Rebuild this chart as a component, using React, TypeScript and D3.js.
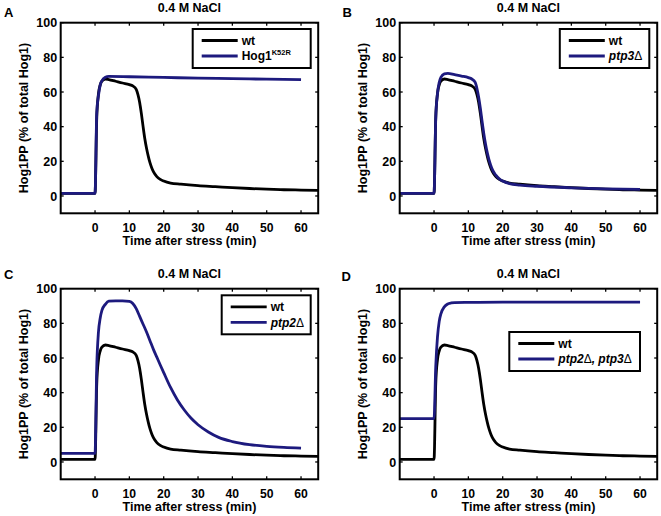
import React from 'react';
import * as d3 from 'd3';

// ---- text ----
const panelTitle = '0.4 M NaCl';
const xLabel = 'Time after stress (min)';
const yLabel = 'Hog1PP (% of total Hog1)';
const timeTicks = [0, 10, 20, 30, 40, 50, 60];
const valueTicks = [0, 20, 40, 60, 80, 100];
const timeDomain = [-10, 65];
const valueDomain = [-10, 100];

// ---- data ----
const wtTime = [-10, 0, 0.5, 1, 1.5, 2, 3, 4, 6, 8, 10, 11, 12, 12.5, 13, 13.5, 14, 14.5, 15, 15.5, 16, 16.5, 17, 18, 19, 20, 22, 25, 30, 35, 40, 45, 50, 55, 60, 65];
const wtValues = [1.5, 1.5, 45, 59, 64, 66.3, 67.5, 67.2, 66.2, 65.2, 64.3, 63.5, 61.5, 58.5, 54, 47.5, 40, 33, 27.5, 23, 19.2, 16.3, 14, 11.2, 9.6, 8.6, 7.4, 6.8, 6.0, 5.4, 4.8, 4.3, 3.9, 3.6, 3.4, 3.2];

const k52rTime = [-10, 0, 0.5, 1, 1.5, 2, 3, 4, 10, 20, 30, 40, 50, 60];
const k52rValues = [1.5, 1.5, 48, 58, 64, 66.5, 68.5, 69, 68.8, 68.4, 68, 67.7, 67.4, 67.1];

const ptp3Time = [-10, 0, 0.5, 1, 1.5, 2, 3, 4, 6, 8, 10, 11, 12, 12.5, 13, 13.5, 14, 14.5, 15, 15.5, 16, 16.5, 17, 18, 19, 20, 22, 25, 30, 40, 50, 60];
const ptp3Values = [1.5, 1.5, 45, 59, 65.5, 68.5, 70.5, 70.8, 70, 69.2, 68.3, 67.5, 65.5, 62, 57, 50.5, 43, 36, 30, 25, 21, 17.8, 15.2, 12, 9.9, 8.6, 7.1, 6.3, 5.6, 4.7, 4.1, 3.8];

const ptp2Time = [-10, 0, 0.5, 1, 1.5, 2, 3, 4, 6, 8, 10, 11, 12, 13, 14, 15, 16, 17, 18, 19, 20, 22, 24, 26, 28, 30, 33, 36, 40, 45, 50, 55, 60];
const ptp2Values = [5, 5, 55, 75, 83, 87.5, 91, 92.8, 93, 93, 92.7, 91.5, 88.5, 84, 79.5, 75, 70, 65, 60.5, 56, 51.6, 43, 35.8, 30, 25.2, 21.5, 17.3, 14.2, 11.8, 10, 9, 8.4, 8];

const ptp23Time = [-10, 0, 0.5, 1, 1.5, 2, 3, 4, 5, 6, 10, 20, 30, 40, 50, 60];
const ptp23Values = [25, 25, 55, 72, 81, 85.5, 89.5, 91.2, 91.8, 92, 92.1, 92.2, 92.2, 92.2, 92.2, 92.2];

const panelLetters = ['A', 'B', 'C', 'D'];
const mutantNames = ['K52R', 'ptp3', 'ptp2', 'ptp23'];

// ---- style ----
const FONT = 'Arial, "Liberation Sans", Helvetica, sans-serif';
const BLUE = '#1d1a7e';
const FS = 12.5;
const W = 257.5;
const H = 190.6;
const colLeft = [60.7, 399.7];
const rowTop = [22.7, 288.7];

type Mutant = { time: number[]; values: number[] };
const mutants: Record<string, Mutant> = {
  K52R: { time: k52rTime, values: k52rValues },
  ptp3: { time: ptp3Time, values: ptp3Values },
  ptp2: { time: ptp2Time, values: ptp2Values },
  ptp23: { time: ptp23Time, values: ptp23Values },
};

const legendBoxes: Record<string, { right: number; top: number; width: number }> = {
  K52R: { right: 250, top: 6.3, width: 118 },
  ptp3: { right: 249.6, top: 6.3, width: 89.5 },
  ptp2: { right: 250, top: 6.6, width: 89 },
  ptp23: { right: 240.3, top: 43.3, width: 130.7 },
};

const labelPos = [
  [4, 16.8],
  [342.5, 17.2],
  [4, 278.6],
  [341.5, 280.6],
];

function MutantLabel({ name }: { name: string }) {
  const delta = <tspan fontWeight="normal" fontStyle="normal">Δ</tspan>;
  if (name === 'K52R')
    return (
      <>
        Hog1<tspan fontSize={7.5} dy={-5}>K52R</tspan>
      </>
    );
  if (name === 'ptp3') return (<><tspan fontStyle="italic">ptp3</tspan>{delta}</>);
  if (name === 'ptp2') return (<><tspan fontStyle="italic">ptp2</tspan>{delta}</>);
  return (
    <>
      <tspan fontStyle="italic">ptp2</tspan>
      <tspan fontWeight="normal" fontStyle="normal">Δ</tspan>
      <tspan fontStyle="italic">, ptp3</tspan>
      <tspan fontWeight="normal" fontStyle="normal">Δ</tspan>
    </>
  );
}

function Panel({ idx }: { idx: number }) {
  const name = mutantNames[idx];
  const mut = mutants[name];
  const x = d3.scaleLinear().domain(timeDomain).range([0, W]);
  const y = d3.scaleLinear().domain(valueDomain).range([H, 0]);
  const makePath = (t: number[], v: number[]) =>
    d3
      .line<[number, number]>()
      .x((d) => x(d[0]))
      .y((d) => y(d[1]))
      .curve(d3.curveMonotoneX)(t.map((tt, i) => [tt, v[i]] as [number, number])) || '';
  const left = colLeft[idx % 2];
  const top = rowTop[Math.floor(idx / 2)];
  const lb = legendBoxes[name];
  const lx = lb.right - lb.width;
  const tick = 3;
  return (
    <g transform={`translate(${left},${top})`}>
      <text x={W / 2} y={-11.2} textAnchor="middle" fontSize={FS} fontWeight="bold">
        {panelTitle}
      </text>
      <path d={makePath(wtTime, wtValues)} fill="none" stroke="#000" strokeWidth={2.8} strokeLinejoin="round" />
      <path d={makePath(mut.time, mut.values)} fill="none" stroke={BLUE} strokeWidth={2.8} strokeLinejoin="round" />
      {timeTicks.map((t) => (
        <g key={'xt' + t}>
          <line x1={x(t)} x2={x(t)} y1={H} y2={H - tick} stroke="#000" strokeWidth={1.3} />
          <line x1={x(t)} x2={x(t)} y1={0} y2={tick} stroke="#000" strokeWidth={1.3} />
          <text x={x(t)} y={H + 18.6} textAnchor="middle" fontSize={12.2} fontWeight="bold">
            {t}
          </text>
        </g>
      ))}
      {valueTicks.map((v) => (
        <g key={'yt' + v}>
          <line x1={0} x2={tick} y1={y(v)} y2={y(v)} stroke="#000" strokeWidth={1.3} />
          <line x1={W} x2={W - tick} y1={y(v)} y2={y(v)} stroke="#000" strokeWidth={1.3} />
          <text x={-3.6} y={y(v) + 4.6} textAnchor="end" fontSize={FS} fontWeight="bold">
            {v}
          </text>
        </g>
      ))}
      <rect x={0} y={0} width={W} height={H} fill="none" stroke="#000" strokeWidth={2} />
      <text x={W / 2} y={H + 31.6} textAnchor="middle" fontSize={FS} fontWeight="bold">
        {xLabel}
      </text>
      <text
        transform={`translate(-33.2,${H / 2}) rotate(-90)`}
        textAnchor="middle"
        fontSize={FS}
        fontWeight="bold"
      >
        {yLabel}
      </text>
      <g transform={`translate(${lx},${lb.top})`}>
        <rect x={0} y={0} width={lb.width} height={39} fill="#fff" stroke="#000" strokeWidth={2} />
        <line x1={9} x2={45} y1={11.5} y2={11.5} stroke="#000" strokeWidth={2.8} />
        <text x={49} y={15.8} fontSize={12} fontWeight="bold">wt</text>
        <line x1={9} x2={45} y1={27} y2={27} stroke={BLUE} strokeWidth={2.8} />
        <text x={49} y={31.3} fontSize={12} fontWeight="bold">
          <MutantLabel name={name} />
        </text>
      </g>
    </g>
  );
}

export default function App() {
  return (
    <div style={{ position: 'absolute', left: 0, top: 0 }}>
      <svg width={661} height={516} fontFamily={FONT} style={{ display: 'block', background: '#fff' }}>
        {panelLetters.map((l, i) => (
          <text key={l} x={labelPos[i][0]} y={labelPos[i][1]} fontSize={13} fontWeight="bold">
            {l}
          </text>
        ))}
        {panelLetters.map((l, i) => (
          <Panel key={'p' + l} idx={i} />
        ))}
      </svg>
    </div>
  );
}
